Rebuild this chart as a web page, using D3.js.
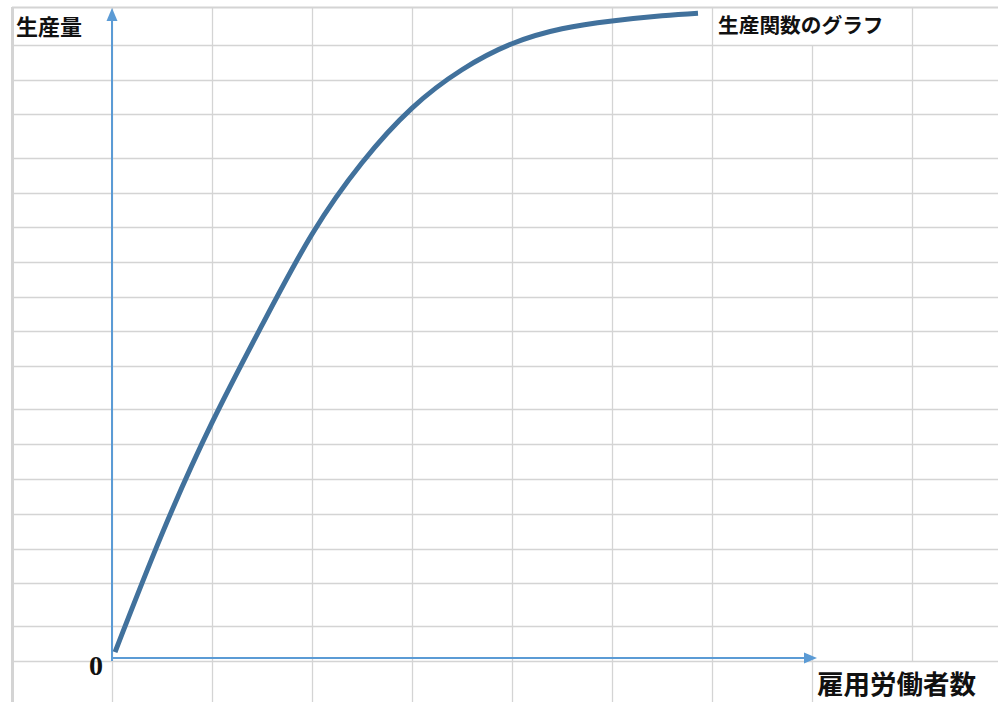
<!DOCTYPE html>
<html>
<head>
<meta charset="utf-8">
<script src="https://cdn.jsdelivr.net/npm/d3@7"></script>
<style>
  html, body { margin: 0; padding: 0; background: #fff; }
  svg { display: block; }
</style>
</head>
<body>
<svg id="chart" width="998" height="702"></svg>
<script>
// ---- data ----
const labourInput = [0.03, 0.5, 1.0, 1.5, 2.0, 2.5, 3.0, 3.5, 4.0, 4.5, 5.0, 5.5, 5.86];
const outputValues = [0.9, 19.1, 36.2, 51.2, 65.2, 76.2, 84.6, 90.5, 94.5, 96.8, 98.0, 98.8, 99.2];
const chartTitle = "生産関数のグラフ";
const yAxisLabel = "生産量";
const xAxisLabel = "雇用労働者数";
const originLabel = "0";

// ---- layout (spreadsheet background) ----
const W = 998, H = 702;
const rowEdges = [7, 45, 80, 114, 158, 193, 227, 262, 297, 331, 366, 409, 444, 479, 514, 549, 583, 626, 661];
const colIdx = d3.range(-1, 10); // spreadsheet columns, 100px each

const svg = d3.select("#chart");
const x = d3.scaleLinear().domain([0, 7]).range([112, 812]);
const y = d3.scaleLinear().domain([0, 100]).range([658, 8]);

const gridColor = "#d4d4d4";
const grid = svg.append("g");

// horizontal grid lines
grid.selectAll("line.h").data(rowEdges).enter().append("line")
  .attr("x1", x(-1)).attr("x2", W)
  .attr("y1", d => d + 0.5).attr("y2", d => d + 0.5)
  .attr("stroke", gridColor).attr("stroke-width", (d, i) => i === 0 ? 2 : 1.3);

// vertical grid lines (segments, hidden where text overflows)
colIdx.forEach(c => {
  const xp = Math.round(x(c)) + 0.5;
  let s;
  if (c === 7) s = [rowEdges[1], H];                                   // hidden in top row by title
  else if (c === 8) s = [rowEdges[0], rowEdges[rowEdges.length - 1]];  // hidden in bottom row by x label
  else s = [rowEdges[0], H];
  grid.append("line")
    .attr("x1", xp).attr("x2", xp).attr("y1", s[0]).attr("y2", s[1])
    .attr("stroke", gridColor).attr("stroke-width", c === -1 ? 3 : 1.3);
});

// ---- axes (arrows) ----
const axisColor = "#5b9bd5";
const x0 = x(0), y0 = y(0);
svg.append("line").attr("x1", x0).attr("x2", x0).attr("y1", 661).attr("y2", 18)
  .attr("stroke", axisColor).attr("stroke-width", 2);
svg.append("path")
  .attr("d", `M${x0},${y(100)} L${x0 - 5.5},${y(100) + 13} L${x0 + 5.5},${y(100) + 13} Z`)
  .attr("fill", axisColor);
const xEnd = x(7.05);
svg.append("line").attr("x1", x0).attr("x2", xEnd - 10).attr("y1", y0).attr("y2", y0)
  .attr("stroke", axisColor).attr("stroke-width", 2);
svg.append("path")
  .attr("d", `M${xEnd},${y0} L${xEnd - 13},${y0 - 5.5} L${xEnd - 13},${y0 + 5.5} Z`)
  .attr("fill", axisColor);

// ---- curve ----
const line = d3.line()
  .x((d, i) => x(labourInput[i]))
  .y(d => y(d))
  .curve(d3.curveNatural);
svg.append("path")
  .datum(outputValues)
  .attr("d", line)
  .attr("fill", "none")
  .attr("stroke", "#41719c")
  .attr("stroke-width", 5)
  .attr("stroke-linecap", "butt");

// ---- text ----
const cjk = "'Noto Sans CJK JP', 'Noto Sans CJK SC', sans-serif";
svg.append("text").text(yAxisLabel)
  .attr("x", 16).attr("y", 35)
  .attr("font-family", cjk).attr("font-weight", "bold").attr("font-size", 22).attr("fill", "#111");
svg.append("text").text(chartTitle)
  .attr("x", 718).attr("y", 33)
  .attr("font-family", cjk).attr("font-weight", "bold").attr("font-size", 20.7).attr("fill", "#111");
svg.append("text").text(xAxisLabel)
  .attr("x", 817).attr("y", 694)
  .attr("font-family", cjk).attr("font-weight", "bold").attr("font-size", 26.5).attr("fill", "#111");
svg.append("text").text(originLabel)
  .attr("x", 103).attr("y", 675).attr("text-anchor", "end")
  .attr("font-family", "'Liberation Serif', 'DejaVu Serif', serif").attr("font-weight", "bold")
  .attr("font-size", 28).attr("fill", "#111");
</script>
</body>
</html>
